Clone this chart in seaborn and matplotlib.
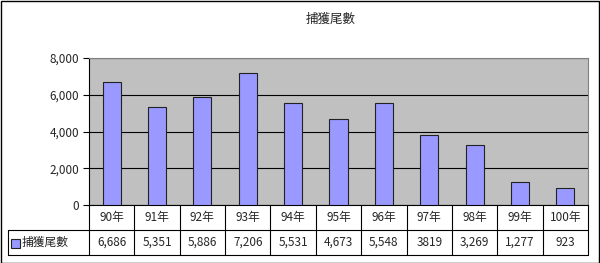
import matplotlib
matplotlib.use("Agg")
import matplotlib.pyplot as plt
import matplotlib.transforms as mtransforms
from matplotlib.patches import Rectangle
import pandas as pd
import seaborn as sns

# data
years = ["90年", "91年", "92年", "93年", "94年", "95年", "96年", "97年", "98年", "99年", "100年"]
counts = [6686, 5351, 5886, 7206, 5531, 4673, 5548, 3819, 3269, 1277, 923]
count_labels = ["6,686", "5,351", "5,886", "7,206", "5,531", "4,673", "5,548", "3819", "3,269", "1,277", "923"]
series_name = "捕獲尾數"
y_ticks = [0, 2000, 4000, 6000, 8000]
y_tick_labels = ["0", "2,000", "4,000", "6,000", "8,000"]

BAR_COLOR = "#9999FF"
PLOT_BG = "#C0C0C0"

sns.set_style("white")
plt.rcParams["font.family"] = ["Noto Sans CJK TC", "DejaVu Sans"]

W, H = 600, 263
fig = plt.figure(figsize=(W / 100, H / 100), dpi=100)

# plot area in pixels
left, right, top, bottom = 89, 588, 58, 205
row_h = 25
ax = fig.add_axes([left / W, 1 - bottom / H, (right - left) / W, (bottom - top) / H])
ax.set_facecolor(PLOT_BG)

df = pd.DataFrame({"year": years, "count": counts})
sns.barplot(data=df, x="year", y="count", color=BAR_COLOR, saturation=1,
            width=0.4, edgecolor="#222222", linewidth=0.8, ax=ax, zorder=3)

ax.set_xlim(-0.5, len(years) - 0.5)
ax.set_ylim(0, 8000)
ax.set_yticks(y_ticks)
ax.set_yticklabels(y_tick_labels, fontsize=8.5)
ax.set_xticks([])
ax.set_xlabel("")
ax.set_ylabel("")
ax.yaxis.grid(True, color="black", linewidth=0.8, zorder=1)
ax.set_axisbelow(True)
ax.tick_params(axis="y", direction="out", length=4, width=0.8, color="black", pad=3, left=True)
for side in ["left", "bottom"]:
    ax.spines[side].set_color("black")
    ax.spines[side].set_linewidth(0.8)
for side in ["top", "right"]:
    ax.spines[side].set_color("#808080")
    ax.spines[side].set_linewidth(0.8)

# --- data table under the chart (x in data units, y in figure coords) ---
n = len(years)
seg = mtransforms.blended_transform_factory(ax.transData, fig.transFigure)
x0_data = -0.5 - (left - 8) / ((right - left) / n)  # table label column starts at x=8px
lw = 0.8

def fy(py):
    return 1 - py / H

ax.plot([-0.5, n - 0.5], [fy(bottom + row_h)] * 2, transform=seg, color="black", lw=lw, clip_on=False)
ax.plot([x0_data, -0.5], [fy(bottom + row_h)] * 2, transform=seg, color="black", lw=lw, clip_on=False)
ax.plot([x0_data, n - 0.5], [fy(bottom + 2 * row_h)] * 2, transform=seg, color="black", lw=lw, clip_on=False)
for i in range(n + 1):
    xb = i - 0.5
    ax.plot([xb, xb], [fy(bottom), fy(bottom + 2 * row_h)], transform=seg,
            color="black", lw=lw, clip_on=False)
ax.plot([x0_data, x0_data], [fy(bottom + row_h), fy(bottom + 2 * row_h)],
        transform=seg, color="black", lw=lw, clip_on=False)

for i, (yr, lab) in enumerate(zip(years, count_labels)):
    ax.text(i, fy(bottom + row_h / 2), yr, transform=seg, ha="center", va="center", fontsize=8.5)
    ax.text(i, fy(bottom + 1.5 * row_h), lab, transform=seg, ha="center", va="center", fontsize=8.5)

# legend key and series name in the table
fig.patches.append(Rectangle((11 / W, fy(bottom + 1.5 * row_h + 5)), 9 / W, 9 / H,
                             transform=fig.transFigure, facecolor=BAR_COLOR,
                             edgecolor="#222222", lw=0.8))
fig.text(22 / W, fy(bottom + 1.5 * row_h), series_name, ha="left", va="center", fontsize=8.5)

# title
fig.text(331 / W, fy(19), series_name, ha="center", va="center", fontsize=9)

# outer border of the chart
fig.patches.append(Rectangle((0.5 / W, 0.5 / H), 1 - 1.5 / W, 1 - 1.5 / H, transform=fig.transFigure,
                             fill=False, edgecolor="black", lw=1))

fig.savefig("out.png", dpi=100)
